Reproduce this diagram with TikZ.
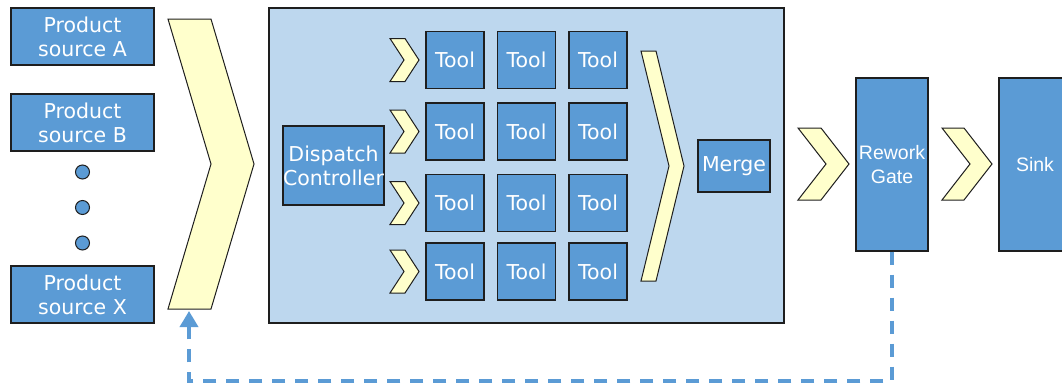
\documentclass[tikz,border=0pt]{standalone}
\usepackage{fontspec}
\setmainfont{DejaVu Sans}
\newfontfamily\arialfont{Liberation Sans}
\usetikzlibrary{arrows.meta}
\definecolor{boxblue}{HTML}{5B9BD5}
\definecolor{panelblue}{HTML}{BDD7EE}
\definecolor{chevyellow}{HTML}{FFFFCC}
\definecolor{edgegray}{HTML}{1E1E1E}
% chevron: left x, top y, total width, arm width, height
\newcommand\chevshape[5]{%
  \draw[chev] (#1,#2) -- ++(#4,0) -- (#1+#3,#2+#5/2) -- (#1+#4,#2+#5)
    -- (#1,#2+#5) -- (#1+#3-#4,#2+#5/2) -- cycle;}
\tikzset{
  box/.style={draw=edgegray, fill=boxblue, line width=1.2pt, text=white,
    inner sep=0pt, align=center, font=\fontsize{20.5}{24}\selectfont},
  gatebox/.style={box, font=\arialfont\fontsize{19.5}{24}\selectfont},
  chev/.style={draw=edgegray, fill=chevyellow, line width=1pt, line join=miter},
  dotmark/.style={circle, draw=edgegray, fill=boxblue, line width=1pt,
    minimum size=14pt, inner sep=0pt},
  rework/.style={draw=boxblue, line width=3.5pt, dash pattern=on 13pt off 10pt,
    -{Triangle[width=18pt,length=16pt]}},
}
\begin{document}
\begin{tikzpicture}[x=1pt,y=-1pt]
\useasboundingbox (0,0) rectangle (1062,386);

% product sources
\node[box, minimum width=143pt, minimum height=57pt] (srcA) at (82.5,36.5) {Product\\source A};
\node[box, minimum width=143pt, minimum height=57pt] (srcB) at (82.5,122.5) {Product\\source B};
\node[box, minimum width=143pt, minimum height=57pt] (srcX) at (82.5,294.5) {Product\\source X};
\node[dotmark] (d1) at (82.5,172) {};
\node[dotmark] (d2) at (82.5,207.5) {};
\node[dotmark] (d3) at (82.5,243) {};

% inbound chevron
\chevshape{168}{19}{86}{43}{290}
\coordinate (inbot) at (189,311);

% tool panel
\draw[draw=edgegray, fill=panelblue, line width=1.3pt] (269,8) rectangle (784,323);
\node[box, minimum width=101pt, minimum height=79pt] (disp) at (333.5,165.5) {Dispatch\\Controller};

\foreach \r/\y in {1/60, 2/131.5, 3/203, 4/271.5} {
  \chevshape{390}{\y-21.5}{29}{15}{43}
  \foreach \c/\x in {1/455, 2/526.5, 3/598} {
    \node[box, minimum width=58pt, minimum height=57pt] (tool-\r-\c) at (\x,\y) {Tool};
  }
}

\chevshape{641}{51}{43}{15}{230}
\node[box, minimum width=72pt, minimum height=52pt] (merge) at (734,166) {Merge};

% outbound stages
\chevshape{798}{128}{51}{23}{72}
\node[gatebox, minimum width=72pt, minimum height=173pt] (gate) at (892,164.5) {Rework\\Gate};
\chevshape{942}{128}{50}{22}{72}
\node[gatebox, minimum width=72pt, minimum height=173pt] (sink) at (1035,164.5) {Sink};

% rework loop back to the inbound stage
\coordinate (loopturn) at (892,381);
\draw[rework] (gate.south) -- (loopturn) -| (inbot);
\end{tikzpicture}
\end{document}
